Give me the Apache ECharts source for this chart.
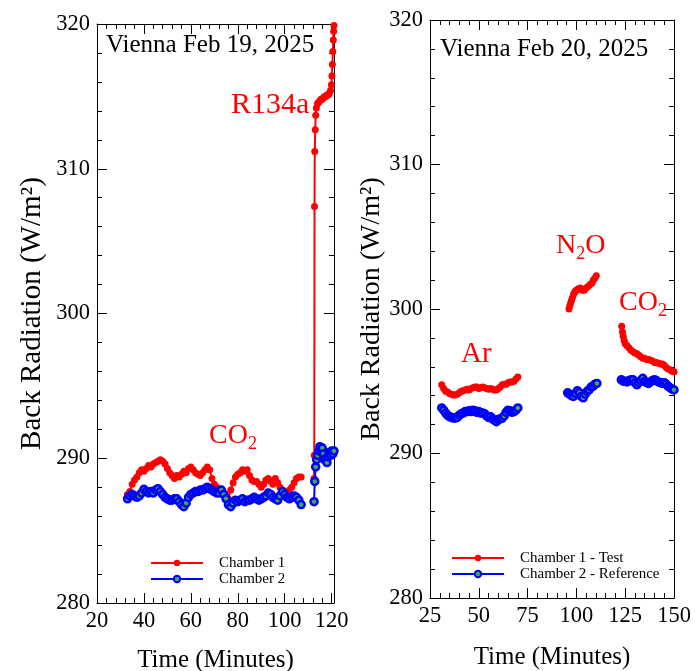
<!DOCTYPE html>
<html><head><meta charset="utf-8">
<script src="https://cdn.jsdelivr.net/npm/echarts@6/dist/echarts.min.js"></script>
<style>html,body{margin:0;padding:0;background:#fff}#c{width:695px;height:671px}</style>
</head><body><div id="c"></div>
<script>
const FONT = '"Liberation Serif","Times New Roman",serif';

// ---- Feb 19 (left panel) ----
const feb19Ch1A = [[33,287.5],[34,287.7],[35,288.2],[36,288.5],[37,288.7],[38,289.0],[39,289.2],[40,289.1],[41,289.3],[42,289.5],[43,289.4],[44,289.6],[45,289.7],[46,289.8],[47,289.9],[48,289.8],[49,289.6],[50,289.3],[51,289.0],[52,288.8],[53,288.6],[54,288.8],[55,288.7],[56,288.9],[57,289.1],[58,289.0],[59,289.3],[60,289.4],[61,289.2],[62,289.0],[63,288.9],[64,288.8],[65,289.0],[66,289.2],[67,289.4],[68,289.2],[69,288.6],[70,288.2],[71,288.0],[72,287.9],[73,287.8],[74,287.6],[75,287.4],[76,287.2],[77,287.8],[78,288.3],[79,288.7],[80,288.9],[81,289.0],[82,289.2],[83,289.1],[84,289.2],[85,288.8],[86,288.5],[87,288.4],[88,288.4],[89,288.2],[90,288.0],[91,288.2],[92,288.5],[93,288.6],[94,288.4],[95,288.2],[96,288.6],[97,288.3],[98,288.0],[99,287.8],[100,287.6],[101,287.6],[102,287.8],[103,288.0],[104,288.3],[105,288.6],[106,288.7],[107,288.7]];
const feb19Ch1B = [[112.5,288.6],[112.6,290.2],[112.7,307.4],[112.8,311.2],[113.0,312.7],[113.2,313.7],[113.5,314.2],[114,314.5],[114.5,314.6],[115,314.7],[115.5,314.8],[116,314.8],[116.5,314.9],[117,315.0],[117.5,315.0],[118,315.1],[118.5,315.1],[119,315.2],[119.5,315.4],[119.9,315.8],[120.1,316.4],[120.3,317.2],[120.5,318.1],[120.7,318.9],[120.85,319.5],[121,319.9]];
const feb19Ch2A = [[33,287.2],[34,287.4],[35,287.5],[36,287.4],[37,287.3],[38,287.4],[39,287.6],[40,287.85],[41,287.7],[42,287.6],[43,287.7],[44,287.6],[45,287.8],[46,287.9],[47,287.7],[48,287.5],[49,287.3],[50,287.2],[51,287.1],[52,287.1],[53,287.2],[54,287.2],[55,287.0],[56,286.8],[57,286.65],[58,286.9],[59,287.3],[60,287.5],[61,287.6],[62,287.7],[63,287.7],[64,287.8],[65,287.8],[66,287.9],[67,288.0],[68,287.9],[69,287.8],[70,287.7],[71,287.6],[72,287.6],[73,287.8],[74,287.5],[75,287.2],[76,286.8],[77,286.65],[78,286.9],[79,287.1],[80,287.0],[81,287.1],[82,287.2],[83,287.0],[84,287.1],[85,287.1],[86,287.2],[87,287.3],[88,287.2],[89,287.1],[90,287.2],[91,287.3],[92,287.4],[93,287.6],[94,287.5],[95,287.3],[96,287.2],[97,287.1],[98,287.4],[99,287.7],[100,287.5],[101,287.3],[102,287.2],[103,287.3],[104,287.4],[105,287.3],[106,287.1],[107,286.8]];
const feb19Ch2B = [[112.5,287.0],[112.8,288.4],[113.2,289.4],[113.6,289.9],[114,290.2],[114.5,290.5],[115,290.8],[115.5,290.6],[116,290.7],[116.5,290.3],[117,289.9],[117.5,290.0],[118,289.7],[118.5,290.1],[119,290.4],[119.5,290.2],[120,290.5],[120.5,290.3],[121,290.5]];

// ---- Feb 20 (right panel) ----
const feb20Ch1Ar = [[31,294.75],[32,294.5],[33,294.3],[34,294.25],[35,294.15],[36,294.1],[37,294.05],[38,294.05],[39,294.1],[40,294.2],[41,294.3],[42,294.35],[43,294.4],[44,294.45],[45,294.4],[46,294.5],[47,294.55],[48,294.6],[49,294.6],[50,294.5],[51,294.55],[52,294.6],[53,294.55],[54,294.5],[55,294.45],[56,294.5],[57,294.45],[58,294.4],[59,294.4],[60,294.5],[61,294.6],[62,294.75],[63,294.8],[64,294.8],[65,294.9],[66,294.95],[67,294.95],[68,295.0],[69,295.15],[70,295.3]];
const feb20Ch2Ar = [[31,293.15],[32,293.0],[33,292.8],[34,292.65],[35,292.55],[36,292.5],[37,292.45],[38,292.45],[39,292.5],[40,292.65],[41,292.75],[42,292.8],[43,292.9],[44,292.9],[45,292.95],[46,292.9],[47,293.0],[48,292.95],[49,292.85],[50,292.9],[51,292.8],[52,292.8],[53,292.75],[54,292.6],[55,292.5],[56,292.55],[57,292.4],[58,292.3],[59,292.2],[60,292.35],[61,292.4],[62,292.45],[63,292.6],[64,292.85],[65,293.0],[66,292.95],[67,292.85],[68,292.9],[69,293.0],[70,293.15]];
const feb20Ch1N2O = [[96.2,300.0],[96.6,300.2],[97,300.4],[97.5,300.6],[98,300.8],[98.5,301.0],[99,301.15],[99.5,301.25],[100,301.3],[101,301.4],[102,301.45],[103,301.3],[104,301.3],[105,301.45],[106,301.55],[107,301.7],[108,301.8],[108.7,302.0],[109.5,302.15],[110.2,302.3]];
const feb20Ch2N2O = [[95.5,294.2],[96.5,294.1],[97.5,294.0],[98.5,293.95],[99.5,294.15],[100.5,294.35],[101.5,294.2],[102.5,293.95],[103.5,293.85],[104.5,294.1],[105.5,294.3],[106.5,294.4],[107.5,294.6],[108.5,294.65],[109.5,294.8],[110.5,294.85]];
const feb20Ch1CO2 = [[123.2,298.8],[123.6,298.4],[124,298.1],[124.5,297.8],[125,297.6],[126,297.45],[127,297.3],[128,297.15],[129,297.05],[130,296.95],[131,296.9],[132,296.8],[133,296.7],[134,296.6],[135,296.6],[136,296.5],[137,296.5],[138,296.45],[139,296.4],[140,296.3],[141,296.3],[142,296.25],[143,296.2],[144,296.2],[145,296.1],[146,295.95],[147,295.85],[148,295.8],[149,295.7],[150,295.65]];
const feb20Ch2CO2 = [[123,295.1],[124,295.0],[125,295.0],[126,294.95],[127,295.05],[128,295.1],[129,295.1],[130,294.9],[131,294.75],[132,294.9],[133,295.05],[134,295.2],[135,295.0],[136,294.9],[137,294.85],[138,294.95],[139,295.05],[140,295.1],[141,295.05],[142,294.95],[143,294.9],[144,294.85],[145,294.9],[146,294.8],[147,294.65],[148,294.55],[149,294.45],[150,294.4]];

const leftXTicks = [20, 121, 20, 4];   // min, max, major, minor step
const rightXTicks = [25, 150, 25, 5];
const yTicks = [280, 320, 10, 2];
const seriesNamesLeft = ['Chamber 1', 'Chamber 2'];
const seriesNamesRight = ['Chamber 1 - Test', 'Chamber 2 - Reference'];

function joinGaps(parts) {
  const out = [];
  parts.forEach((p, i) => {
    if (i > 0) out.push([(parts[i-1][parts[i-1].length-1][0] + p[0][0]) / 2, '-']);
    p.forEach(d => out.push(d));
  });
  return out;
}

const RED = '#ff0000', BLUE = '#0000ff', GREEN = '#3fae3f';

function axes(dim, grid, t, name, nameGap, nameSize) {
  const [min, max, major, minor] = t;
  const isX = dim === 'x';
  const pos = isX ? ['bottom', 'top'] : ['left', 'right'];
  const list = [];
  pos.forEach((p, pi) => {
    list.push({
      type: 'value', gridIndex: grid, position: p, min, max, interval: major,
      name: pi === 0 ? name : '', nameLocation: 'middle', nameGap,
      nameTextStyle: { fontFamily: FONT, fontSize: nameSize, color: '#000' },
      axisLine: { show: true, lineStyle: { color: '#000', width: 1 } },
      axisTick: { show: true, inside: true, length: 10, lineStyle: { color: '#000' } },
      axisLabel: { show: pi === 0, fontFamily: FONT, fontSize: 22.5, color: '#000', margin: 7,
        formatter: v => ((v - min) % major === 0 ? String(v) : '') },
      splitLine: { show: false }, minorTick: { show: false }
    });
    list.push({
      type: 'value', gridIndex: grid, position: p, min, max, interval: minor,
      axisLine: { show: false },
      axisTick: { show: true, inside: true, length: 5, lineStyle: { color: '#000' } },
      axisLabel: { show: false }, splitLine: { show: false }
    });
  });
  return list;
}

const xAxis = [].concat(
  axes('x', 0, leftXTicks, 'Time (Minutes)', 45, 25),
  axes('x', 1, rightXTicks, 'Time (Minutes)', 47, 25)
);
const yAxis = [].concat(
  axes('y', 0, yTicks, 'Back Radiation (W/m²)', 50, 29),
  axes('y', 1, yTicks, 'Back Radiation (W/m²)', 41, 28)
);

function ser(name, data, color, xi, yi, blue) {
  return {
    type: 'line', name, data, xAxisIndex: xi, yAxisIndex: yi,
    connectNulls: false, symbol: 'circle', symbolSize: 7, showSymbol: true,
    lineStyle: { color, width: 2 },
    itemStyle: blue ? { color: GREEN, borderColor: BLUE, borderWidth: 2.5 } : { color, borderColor: color, borderWidth: 0 },
    color: blue ? GREEN : color,
    animation: false, z: blue ? 3 : 2
  };
}

function note(x, y, text, size, color) {
  const c = color || RED;
  return { type: 'text', left: x, top: y, z: 20,
    style: { text, fill: c, font: `${size}px ${FONT}`,
      rich: { n: { fontFamily: FONT, fontSize: size, fill: c },
              s: { fontFamily: FONT, fontSize: Math.round(size * 0.66), fill: c, padding: [Math.round(size * 0.62), 0, 0, 0] } } } };
}

const legendText = { fontFamily: FONT, fontSize: 15, color: '#000', lineHeight: 16, padding: [0, 0, 0, 11] };

const option = {
  backgroundColor: '#fff',
  animation: false,
  grid: [
    { left: 97, top: 24, width: 237, height: 579, outerBoundsMode: 'none', containLabel: false },
    { left: 430, top: 20, width: 244, height: 578, outerBoundsMode: 'none', containLabel: false }
  ],
  xAxis, yAxis,
  legend: [
    { data: seriesNamesLeft, left: 150, top: 555, orient: 'vertical', itemWidth: 52, itemHeight: 8, itemGap: 0,
      textStyle: legendText, selectedMode: false, padding: 0 },
    { data: seriesNamesRight, left: 451, top: 550, orient: 'vertical', itemWidth: 52, itemHeight: 8, itemGap: 0,
      textStyle: legendText, selectedMode: false, padding: 0 }
  ],
  series: [
    ser(seriesNamesLeft[0], joinGaps([feb19Ch1A, feb19Ch1B]), RED, 0, 0, false),
    ser(seriesNamesLeft[1], joinGaps([feb19Ch2A, feb19Ch2B]), BLUE, 0, 0, true),
    ser(seriesNamesRight[0], joinGaps([feb20Ch1Ar, feb20Ch1N2O, feb20Ch1CO2]), RED, 4, 4, false),
    ser(seriesNamesRight[1], joinGaps([feb20Ch2Ar, feb20Ch2N2O, feb20Ch2CO2]), BLUE, 4, 4, true)
  ],
  graphic: [
    note(106, 33, 'Vienna Feb 19, 2025', 25, '#000'),
    note(440, 37, 'Vienna Feb 20, 2025', 25, '#000'),
    note(231, 90, 'R134a', 30),
    note(209, 422, '{n|CO}{s|2}', 28),
    note(461, 340, 'Ar', 29),
    note(556, 232, '{n|N}{s|2}{n|O}', 28),
    note(619, 289, '{n|CO}{s|2}', 28)
  ]
};

const chart = echarts.init(document.getElementById('c'), null, { renderer: 'canvas' });
chart.setOption(option);
</script>
</body></html>
